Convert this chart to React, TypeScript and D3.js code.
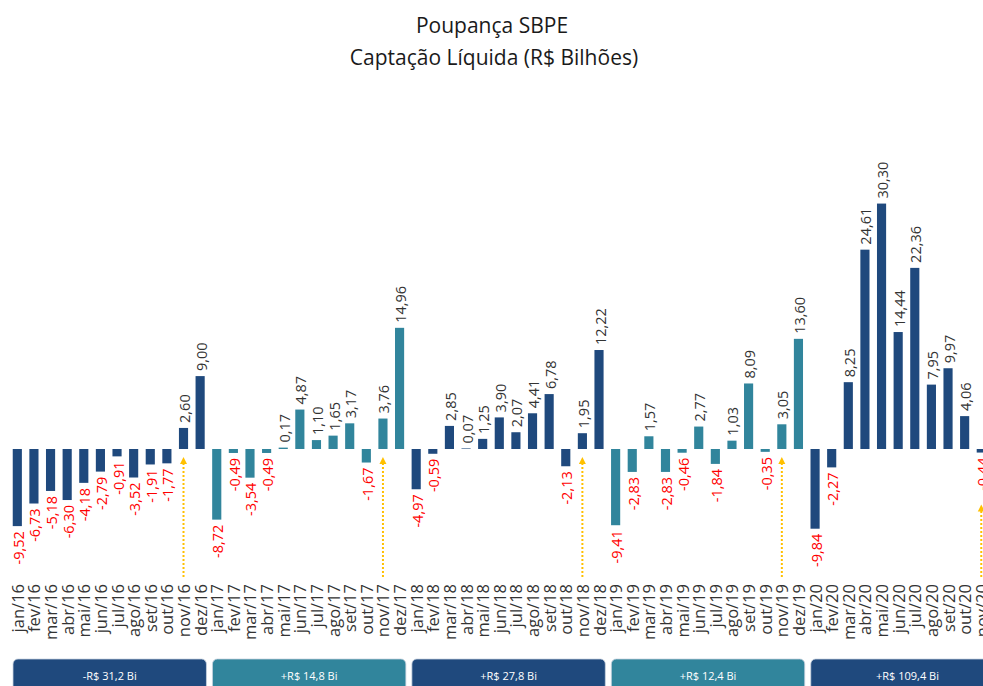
import React, { useRef, useEffect } from 'react';
import * as d3 from 'd3';

const monthNames = ['jan', 'fev', 'mar', 'abr', 'mai', 'jun', 'jul', 'ago', 'set', 'out', 'nov', 'dez'];
const years = ['16', '17', '18', '19', '20'];

const values2016 = [-9.52, -6.73, -5.18, -6.3, -4.18, -2.79, -0.91, -3.52, -1.91, -1.77, 2.6, 9.0];
const values2017 = [-8.72, -0.49, -3.54, -0.49, 0.17, 4.87, 1.1, 1.65, 3.17, -1.67, 3.76, 14.96];
const values2018 = [-4.97, -0.59, 2.85, 0.07, 1.25, 3.9, 2.07, 4.41, 6.78, -2.13, 1.95, 12.22];
const values2019 = [-9.41, -2.83, 1.57, -2.83, -0.46, 2.77, -1.84, 1.03, 8.09, -0.35, 3.05, 13.6];
const values2020 = [-9.84, -2.27, 8.25, 24.61, 30.3, 14.44, 22.36, 7.95, 9.97, 4.06, -0.44];

const yearTotals = ['-R$ 31,2 Bi', '+R$ 14,8 Bi', '+R$ 27,8 Bi', '+R$ 12,4 Bi', '+R$ 109,4 Bi'];

const DARK = '#1f497d';
const TEAL = '#31859c';

const App = () => {
  const chart = useRef<SVGSVGElement | null>(null);

  useEffect(() => {
    const svg = d3.select(chart.current);
    svg.selectAll('*').remove();

    const series = [values2016, values2017, values2018, values2019, values2020];
    const months = years.flatMap((yr) => monthNames.map((m) => `${m}/${yr}`));
    const data = series.flatMap((vals, yi) =>
      vals.map((v, mi) => ({ month: `${monthNames[mi]}/${years[yi]}`, value: v, year: yi, mi }))
    );

    const step = 16.62;
    const x0 = 9;
    const x = d3
      .scaleBand()
      .domain(months)
      .range([x0, x0 + months.length * step])
      .paddingInner(0.45)
      .paddingOuter(0.225);

    const y = d3.scaleLinear().domain([-10, 31]).range([530, 197.9]);
    const fmt = (v: number) => v.toFixed(2).replace('.', ',');
    const font = "'Open Sans', sans-serif";

    // titulo
    svg
      .append('text')
      .attr('x', 492)
      .attr('y', 33)
      .attr('text-anchor', 'middle')
      .attr('font-family', font)
      .attr('font-size', 21)
      .attr('fill', '#1a1a1a')
      .text('Poupança SBPE');
    svg
      .append('text')
      .attr('x', 494)
      .attr('y', 65)
      .attr('text-anchor', 'middle')
      .attr('font-family', font)
      .attr('font-size', 21)
      .attr('fill', '#1a1a1a')
      .text('Captação Líquida (R$ Bilhões)');

    // barras
    svg
      .append('g')
      .selectAll('rect')
      .data(data)
      .enter()
      .append('rect')
      .attr('x', (d) => x(d.month)!)
      .attr('y', (d) => y(Math.max(0, d.value)))
      .attr('width', x.bandwidth())
      .attr('height', (d) => Math.abs(y(d.value) - y(0)))
      .attr('fill', (d) => (d.year % 2 === 0 ? DARK : TEAL));

    // rotulos de valor
    svg
      .append('g')
      .selectAll('text')
      .data(data)
      .enter()
      .append('text')
      .attr('transform', (d) => {
        const cx = x(d.month)! + x.bandwidth() / 2 + 1;
        const ty = d.value >= 0 ? y(d.value) - 5 : y(d.value) + 5;
        return `translate(${cx},${ty}) rotate(-90)`;
      })
      .attr('text-anchor', (d) => (d.value >= 0 ? 'start' : 'end'))
      .attr('dominant-baseline', 'central')
      .attr('font-family', font)
      .attr('font-size', 14.5)
      .attr('fill', (d) => (d.value >= 0 ? '#333333' : '#ff0000'))
      .text((d) => fmt(d.value));

    // setas pontilhadas em novembro
    const nov = data.filter((d) => d.mi === 10);
    const arrows = svg.append('g').selectAll('g').data(nov).enter().append('g');
    const tipY = (d: { value: number }) => (d.value >= 0 ? y(0) + 8 : y(d.value) + 52);
    arrows
      .append('line')
      .attr('x1', (d) => x(d.month)! + x.bandwidth() / 2)
      .attr('x2', (d) => x(d.month)! + x.bandwidth() / 2)
      .attr('y1', 577)
      .attr('y2', (d) => tipY(d) + 4)
      .attr('stroke', '#ffc000')
      .attr('stroke-width', 2)
      .attr('stroke-dasharray', '2,2');
    arrows
      .append('path')
      .attr('d', (d) => {
        const cx = x(d.month)! + x.bandwidth() / 2;
        const t = tipY(d);
        return `M${cx},${t} L${cx - 3.5},${t + 7} L${cx + 3.5},${t + 7} Z`;
      })
      .attr('fill', '#ffc000');

    // eixo x
    svg
      .append('g')
      .selectAll('text')
      .data(months)
      .enter()
      .append('text')
      .attr('transform', (m) => `translate(${x(m)! + x.bandwidth() / 2},584) rotate(-90)`)
      .attr('text-anchor', 'end')
      .attr('dominant-baseline', 'central')
      .attr('font-family', font)
      .attr('font-size', 16.5)
      .attr('fill', '#333333')
      .text((m) => m);

    // caixas com total anual
    const boxes = svg.append('g').selectAll('g').data(yearTotals).enter().append('g');
    const yearStep = step * 12;
    boxes
      .append('rect')
      .attr('x', (_, i) => x0 + i * yearStep + 4)
      .attr('y', 659)
      .attr('width', yearStep - 6)
      .attr('height', 40)
      .attr('rx', 5)
      .attr('fill', (_, i) => (i % 2 === 0 ? DARK : TEAL))
      .attr('stroke', '#c9d3e0')
      .attr('stroke-width', 0.8);
    boxes
      .append('text')
      .attr('x', (_, i) => x0 + i * yearStep + 1 + yearStep / 2)
      .attr('y', 680)
      .attr('text-anchor', 'middle')
      .attr('font-family', font)
      .attr('font-size', 11)
      .attr('fill', '#ffffff')
      .text((d) => d);
  }, []);

  return (
    <svg
      ref={chart}
      width={983}
      height={686}
      style={{ position: 'fixed', left: 0, top: 0, background: '#ffffff' }}
    />
  );
};

export default App;
